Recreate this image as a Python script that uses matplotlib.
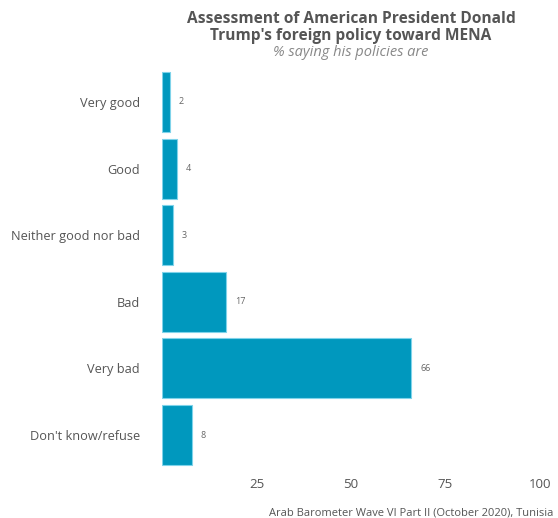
import matplotlib.pyplot as plt
import numpy as np

categories = ["Very good", "Good", "Neither good nor bad", "Bad", "Very bad", "Don't know/refuse"]
values = [2, 4, 3, 17, 66, 8]
xticks = [25, 50, 75, 100]

plt.rcParams['font.family'] = ['Open Sans', 'DejaVu Sans']

fig = plt.figure(figsize=(5.58, 5.18), dpi=100)
ax = fig.add_axes([162/558, 43/518, 378/558, 413/518])

y = np.arange(len(categories))
ax.barh(y, values, height=0.9, color="#0098be", edgecolor="#7fd3ea", linewidth=0.8)
for yi, v in zip(y, values):
    ax.text(v + 2.3, yi, str(v), va="center", ha="left", fontsize=6.5, color="#666666")

ax.set_ylim(len(categories) - 0.4, -0.6)
ax.set_xlim(0, 100)
ax.set_yticks(y)
ax.set_yticklabels(categories, fontsize=9.2, color="#555555")
ax.set_xticks(xticks)
ax.set_xticklabels([str(t) for t in xticks], fontsize=9.5, color="#555555")
ax.tick_params(length=0)
ax.tick_params(axis="x", pad=2)
ax.tick_params(axis="y", pad=16)
for s in ax.spines.values():
    s.set_visible(False)

fig.text(351/558, 1 - 27.5/518, "Assessment of American President Donald\nTrump's foreign policy toward MENA",
         ha="center", va="center", fontsize=11.2, fontweight="bold", color="#555555", linespacing=1.15)
fig.text(351/558, 1 - 52/518, "% saying his policies are", ha="center", va="center",
         fontsize=10.5, style="italic", color="#888888")
fig.text(553/558, 1 - 513/518, "Arab Barometer Wave VI Part II (October 2020), Tunisia",
         ha="right", va="center", fontsize=8, color="#555555")

fig.savefig("out.png", dpi=100)
